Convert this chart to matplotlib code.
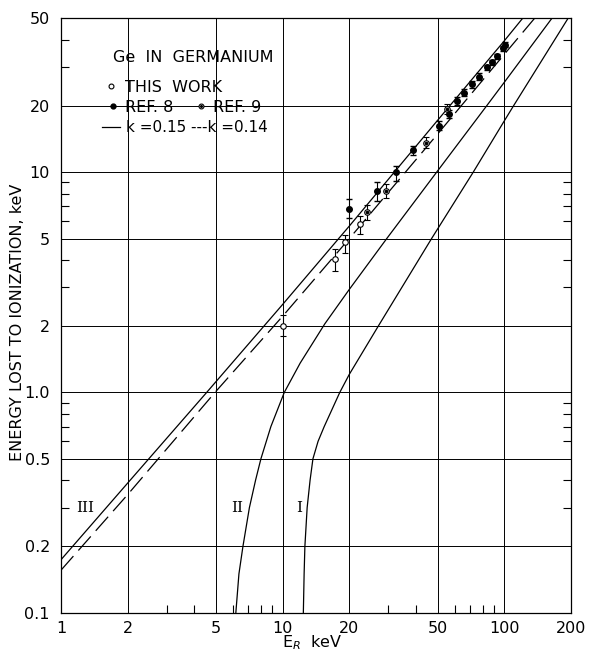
import matplotlib
matplotlib.use("Agg")
import matplotlib.pyplot as plt
from matplotlib.ticker import FixedLocator, NullFormatter, FixedFormatter
from matplotlib.lines import Line2D
import numpy as np

# ---------------- data ----------------
# Theory curve III, k = 0.15 (solid)
III_solid_x = [1.0, 2.0, 4.54, 10.0, 20.0, 50.0, 100.0, 121.0]
III_solid_y = [0.174, 0.388, 1.0, 2.51, 5.7, 17.2, 39.5, 50.0]
# Theory curve III, k = 0.14 (dashed)
III_dash_x = [1.0, 2.0, 4.95, 10.0, 20.0, 50.0, 100.0, 137.0]
III_dash_y = [0.156, 0.344, 1.0, 2.22, 5.0, 14.9, 34.3, 50.0]
# Curve II
II_x = [6.15, 6.35, 6.62, 7.08, 7.55, 7.98, 8.85, 10.17, 12.0, 15.5, 20.0, 29.5, 49.5, 83.2, 100.0, 164.0]
II_y = [0.10, 0.15, 0.20, 0.30, 0.40, 0.50, 0.70, 1.00, 1.36, 2.05, 2.94, 5.0, 10.0, 20.0, 25.6, 50.0]
# Curve I
I_x = [12.4, 12.5, 12.6, 12.9, 13.3, 13.7, 14.45, 15.4, 18.1, 20.0, 27.0, 47.0, 72.4, 100.0, 110.0, 194.0]
I_y = [0.10, 0.15, 0.20, 0.30, 0.40, 0.50, 0.60, 0.70, 1.0, 1.21, 2.0, 5.0, 10.0, 17.1, 20.0, 50.0]

# This work (open circles)
tw_x = [10.0, 17.3, 19.1, 22.3]
tw_y = [2.0, 4.05, 4.8, 5.8]
tw_lo = [1.8, 3.55, 4.28, 5.27]
tw_hi = [2.25, 4.5, 5.2, 6.3]

# Ref. 9 (dotted circles)
r9_x = [23.9, 29.4, 44.3, 54.9]
r9_y = [6.6, 8.2, 13.6, 19.3]
r9_lo = [6.1, 7.6, 12.9, 18.3]
r9_hi = [7.1, 8.8, 14.4, 20.4]

# Ref. 8 (filled circles)
r8_x = [19.9, 26.6, 32.5, 38.6, 50.8, 56.2, 61.0, 65.8, 71.4, 77.1, 83.2, 87.6, 92.9, 99.0, 100.6]
r8_y = [6.8, 8.2, 10.0, 12.6, 16.3, 18.4, 21.1, 23.0, 25.1, 27.2, 29.9, 31.5, 33.6, 36.5, 38.0]
r8_lo = [6.2, 7.4, 9.1, 12.0, 15.6, 17.6, 20.3, 22.1, 24.2, 26.3, 29.0, 30.6, 32.6, 35.4, 36.9]
r8_hi = [7.55, 9.0, 10.7, 13.2, 17.0, 19.2, 21.9, 23.9, 26.0, 28.1, 30.8, 32.4, 34.6, 37.6, 39.1]

x_ticks = [1, 2, 5, 10, 20, 50, 100, 200]
x_ticklabels = ["1", "2", "5", "10", "20", "50", "100", "200"]
y_ticks = [0.1, 0.2, 0.5, 1.0, 2, 5, 10, 20, 50]
y_ticklabels = ["0.1", "0.2", "0.5", "1.0", "2", "5", "10", "20", "50"]
x_minor = [3, 4, 6, 7, 8, 9, 30, 40, 60, 70, 80, 90]
y_minor = [0.3, 0.4, 0.6, 0.7, 0.8, 0.9, 3, 4, 6, 7, 8, 9, 30, 40]

# ---------------- figure ----------------
W, H = 589, 654
fig = plt.figure(figsize=(W / 100, H / 100), dpi=100)
ax = fig.add_axes([61 / W, 1 - 612.7 / H, 510 / W, (612.7 - 18.3) / H])
ax.set_xscale("log")
ax.set_yscale("log")
ax.set_xlim(1, 200)
ax.set_ylim(0.1, 50)

for x in x_ticks:
    ax.axvline(x, color="black", lw=0.7, zorder=1)
for y in y_ticks:
    ax.axhline(y, color="black", lw=0.7, zorder=1)

ax.xaxis.set_major_locator(FixedLocator(x_ticks))
ax.xaxis.set_major_formatter(FixedFormatter(x_ticklabels))
ax.yaxis.set_major_locator(FixedLocator(y_ticks))
ax.yaxis.set_major_formatter(FixedFormatter(y_ticklabels))
ax.xaxis.set_minor_locator(FixedLocator(x_minor))
ax.yaxis.set_minor_locator(FixedLocator(y_minor))
ax.xaxis.set_minor_formatter(NullFormatter())
ax.yaxis.set_minor_formatter(NullFormatter())
ax.tick_params(which="major", length=0, labelsize=11.5, pad=8)
ax.tick_params(axis="x", which="major", pad=6)
ax.tick_params(which="minor", direction="in", length=6, width=0.8,
               left=True, right=True, bottom=True, top=False)
for s in ax.spines.values():
    s.set_linewidth(0.9)

lc = "black"
ax.plot(III_solid_x, III_solid_y, color=lc, lw=0.9, zorder=3)
ax.plot(III_dash_x, III_dash_y, color=lc, lw=0.9, ls=(0, (15, 6)), zorder=3)
ax.plot(II_x, II_y, color=lc, lw=0.9, zorder=3)
ax.plot(I_x, I_y, color=lc, lw=0.9, zorder=3)

def errs(y, lo, hi):
    y = np.array(y); return [y - np.array(lo), np.array(hi) - y]

ax.errorbar(tw_x, tw_y, yerr=errs(tw_y, tw_lo, tw_hi), fmt="o", ms=4,
            mfc="white", mec="black", mew=0.8, ecolor="black", elinewidth=0.8,
            capsize=2.5, zorder=5)
ax.errorbar(r9_x, r9_y, yerr=errs(r9_y, r9_lo, r9_hi), fmt="o", ms=4,
            mfc="white", mec="black", mew=0.8, ecolor="black", elinewidth=0.8,
            capsize=2.5, zorder=5)
ax.plot(r9_x, r9_y, "o", ms=1.6, color="black", zorder=6)
ax.errorbar(r8_x, r8_y, yerr=errs(r8_y, r8_lo, r8_hi), fmt="o", ms=4,
            mfc="black", mec="black", ecolor="black", elinewidth=0.8,
            capsize=2.5, zorder=5)

# roman numerals
rom = dict(family="DejaVu Serif", fontsize=11, ha="center", va="center")
ax.text(1.28, 0.30, "III", **rom)
ax.text(6.22, 0.30, "II", **rom)
ax.text(11.9, 0.30, "I", **rom)

# legend block (figure pixel coordinates)
def ft(px, py, s, **kw):
    fig.text(px / W, 1 - py / H, s, va="center", **kw)

def fmark(px, py, **kw):
    fig.add_artist(Line2D([px / W], [1 - py / H], transform=fig.transFigure, **kw))

fs = 11.5
ft(113, 57, "Ge  IN  GERMANIUM", fontsize=fs)
fmark(111, 86, marker="o", ms=3.5, mfc="white", mec="black", mew=0.8, ls="none")
ft(125, 87, "THIS  WORK", fontsize=fs)
fmark(113, 106, marker="o", ms=3.5, mfc="black", mec="black", ls="none")
ft(125, 107, "REF. 8", fontsize=fs)
fmark(201, 106, marker="o", ms=3.5, mfc="white", mec="black", mew=0.8, ls="none")
fmark(201, 106, marker="o", ms=1.2, mfc="black", mec="black", ls="none")
ft(213, 107, "REF. 9", fontsize=fs)
fig.add_artist(Line2D([102 / W, 120 / W], [1 - 127 / H, 1 - 127 / H],
                      transform=fig.transFigure, color="black", lw=0.9))
ft(126, 127, "k =0.15", fontsize=11)
ft(191, 127, "---k =0.14", fontsize=11)

# axis labels
fig.text(18 / W, 1 - 322 / H, "ENERGY LOST TO IONIZATION, keV", rotation=90,
         ha="center", va="center", fontsize=11.5)
fig.text(312 / W, 1.5 / H, "E$_R$  keV", ha="center", va="bottom", fontsize=11.5)

fig.savefig("out.png", dpi=100, facecolor="white")
